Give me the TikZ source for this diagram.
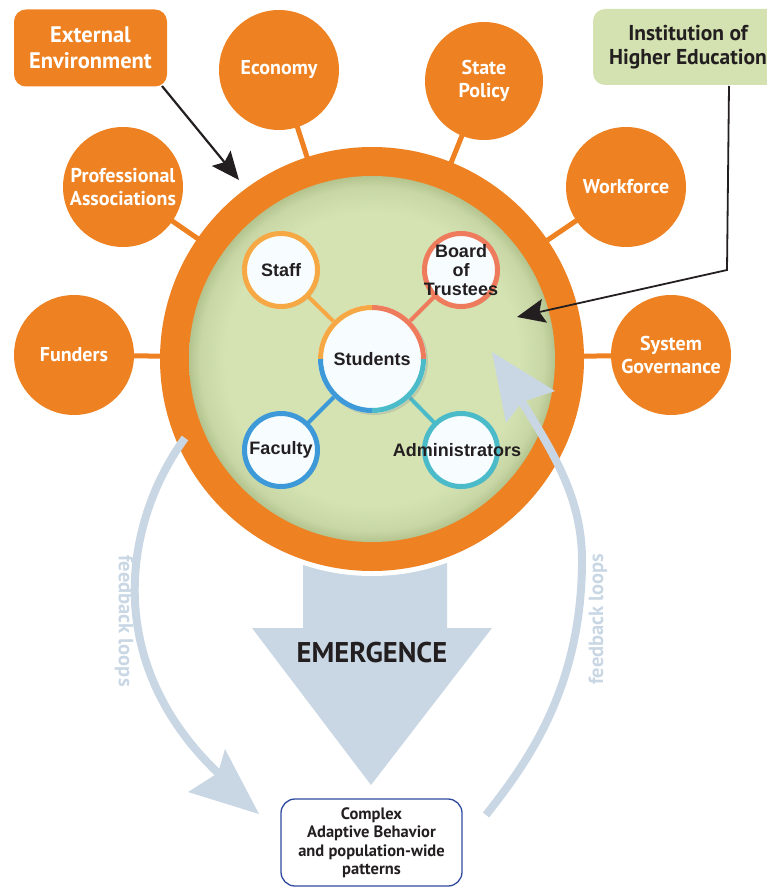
\documentclass[tikz,border=0pt]{standalone}
\usepackage{fontspec}
\setmainfont{PT Sans}
\newfontfamily\helv{Liberation Sans}
\usetikzlibrary{arrows.meta,shadows}
\definecolor{org}{HTML}{EE8223}
\definecolor{lblue}{HTML}{C9D7E4}
\definecolor{gbox}{HTML}{D3E2B0}
\definecolor{gc}{HTML}{D5E3B3}
\definecolor{ge}{HTML}{B4C48F}
\definecolor{cstaff}{HTML}{F5A843}
\definecolor{cboard}{HTML}{EE7B5C}
\definecolor{cfac}{HTML}{3D99D8}
\definecolor{cadm}{HTML}{4CBBC9}
\definecolor{txt}{HTML}{231F20}
\definecolor{boxblue}{HTML}{2E4A9E}
\pgfdeclareradialshading{greenball}{\pgfpoint{0bp}{0bp}}{color(0bp)=(gc); color(20bp)=(gc); color(23.5bp)=(gc!60!ge); color(25bp)=(ge); color(50bp)=(ge)}
\tikzset{
  outerc/.style={circle, fill=org, draw=none, text=white, inner sep=0pt, minimum size=120pt, align=center,
    font=\bfseries\fontsize{20}{23}\selectfont},
  orgbox/.style={rounded corners=12pt, inner sep=0pt, align=center},
  conn/.style={org, line width=5pt},
  innerc/.style={circle, fill=white!97!cyan, draw=#1, line width=5pt, minimum size=73pt, inner sep=0pt,
    drop shadow={shadow xshift=2pt, shadow yshift=-2pt, opacity=0.25}},
  innert/.style={text=txt, align=center, font=\helv\bfseries\fontsize{18}{19}\selectfont},
  stem/.style={line width=4pt, #1},
  blk/.style={draw=txt, line width=2.2pt, -{Stealth[length=28pt, width=24pt, inset=5pt]}},
  fb/.style={draw=lblue, line width=8pt},
  fbtext/.style={text=lblue, font=\bfseries\fontsize{20.5}{24}\selectfont}
}
\begin{document}
\begin{tikzpicture}[x=1pt,y=-1pt]
\useasboundingbox (0,0) rectangle (767,888);
\coordinate (bc) at (372,359);
% emergence arrow
\fill[lblue] (303,555) -- (447,555) -- (447,628) -- (492,628) -- (371,785) -- (252,628) -- (303,628) -- cycle;
% halo
\fill[white] (bc) circle[radius=217];
% outer nodes (positions)
\coordinate (pecon) at (279,70);
\coordinate (pstate) at (484,81);
\coordinate (pprof) at (123,187);
\coordinate (pwork) at (626,187);
\coordinate (pfund) at (74,355);
\coordinate (psysg) at (671,355);
% connectors
\foreach \n in {pecon,pstate,pprof,pwork,pfund,psysg} {
  \draw[conn] (\n) -- (bc);
}
\node[outerc] (econ) at (pecon) {Economy};
\node[outerc, minimum size=118pt] (state) at (pstate) {State\\Policy};
\node[outerc] (prof) at (pprof) {Professional\\Associations};
\node[outerc] (work) at (pwork) {Workforce};
\node[outerc] (fund) at (pfund) {Funders};
\node[outerc] (sysg) at (psysg) {System\\Governance};
% big circle
\node[circle, fill=org, minimum size=424pt, inner sep=0pt] (big) at (bc) {};
\shade[shading=greenball] (bc) circle[radius=183];
% inner positions
\coordinate (pstaff) at (281,270);
\coordinate (pboard) at (461,270);
\coordinate (pfac) at (281,450);
\coordinate (padm) at (461,450);
\coordinate (pstud) at (372,359);
\draw[stem=cstaff] (pstaff) -- (pstud);
\draw[stem=cboard] (pboard) -- (pstud);
\draw[stem=cfac] (pfac) -- (pstud);
\draw[stem=cadm] (padm) -- (pstud);
\node[innerc=cstaff] (staff) at (pstaff) {};
\node[innerc=cboard] (board) at (pboard) {};
\node[innerc=cfac] (fac) at (pfac) {};
\node[innerc=cadm] (adm) at (padm) {};
\node[circle, fill=white!97!cyan, minimum size=108pt, inner sep=0pt,
  drop shadow={shadow xshift=2pt, shadow yshift=-2pt, opacity=0.25}] (stud) at (pstud) {};
\begin{scope}[shift={(pstud)}, y=1pt]
  \draw[cboard, line width=5pt] (0:51.5) arc[start angle=0, end angle=90, radius=51.5];
  \draw[cstaff, line width=5pt] (90:51.5) arc[start angle=90, end angle=180, radius=51.5];
  \draw[cfac, line width=5pt] (180:51.5) arc[start angle=180, end angle=270, radius=51.5];
  \draw[cadm, line width=5pt] (270:51.5) arc[start angle=270, end angle=360, radius=51.5];
\end{scope}
\node[innert] (tstud) at (pstud) {Students};
\node[innert] (tstaff) at (pstaff) {Staff};
\node[innert] (tboard) at (pboard) {Board\\of\\Trustees};
\node[innert] (tfac) at (pfac) {Faculty};
\node[innert] (tadm) at (457,450) {Administrators};
% feedback loops
\coordinate (fl1) at (185,438);
\coordinate (fl2) at (218,773);
\draw[fb] (fl1) .. controls (125,520) and (100,660) .. (fl2);
\fill[lblue] (259,814) -- (188,792) -- (218,773) -- (225,749) -- cycle;
\coordinate (fr1) at (486,815);
\coordinate (fr2) at (522,402);
\draw[fb] (fr1) .. controls (525,765) and (582,690) .. (582,560) .. controls (582,500) and (555,455) .. (fr2);
\fill[lblue] (492,352) -- (555,391) -- (522,402) -- (506,423) -- cycle;
\node[fbtext, rotate=-90] (fbl) at (124,621) {feedback loops};
\node[fbtext, rotate=90] (fbr) at (598,619) {feedback loops};
% boxes
\node[orgbox, fill=org, text=white, minimum width=153pt, minimum height=77pt,
  font=\bfseries\fontsize{22.5}{26}\selectfont] (ext) at (90.5,48) {External\\Environment};
\node[orgbox, fill=gbox, text=txt, minimum width=190pt, minimum height=76pt,
  font=\bfseries\fontsize{21.5}{24}\selectfont] (inst) at (688,47) {Institution of\\Higher Education};
\coordinate (ea) at (162,86);
\coordinate (eb) at (239,180);
\draw[blk] (ea) -- (eb);
\coordinate (ia) at (729,86);
\coordinate (ib) at (727,270);
\coordinate (ic) at (517,317);
\draw[blk, line width=1.8pt] (ia) -- (ib) -- (ic);
% emergence
\node[text=txt, font=\bfseries\fontsize{28.5}{32}\selectfont] (emer) at (372,653) {EMERGENCE};
\node[draw=boxblue, line width=1.3pt, rounded corners=14pt, minimum width=181pt, minimum height=87pt,
  inner sep=0pt, align=center, text=txt, font=\bfseries\fontsize{16.5}{18.5}\selectfont] (cab) at (371.5,842.5)
  {Complex\\Adaptive Behavior\\and population-wide\\patterns};
\end{tikzpicture}
\end{document}
